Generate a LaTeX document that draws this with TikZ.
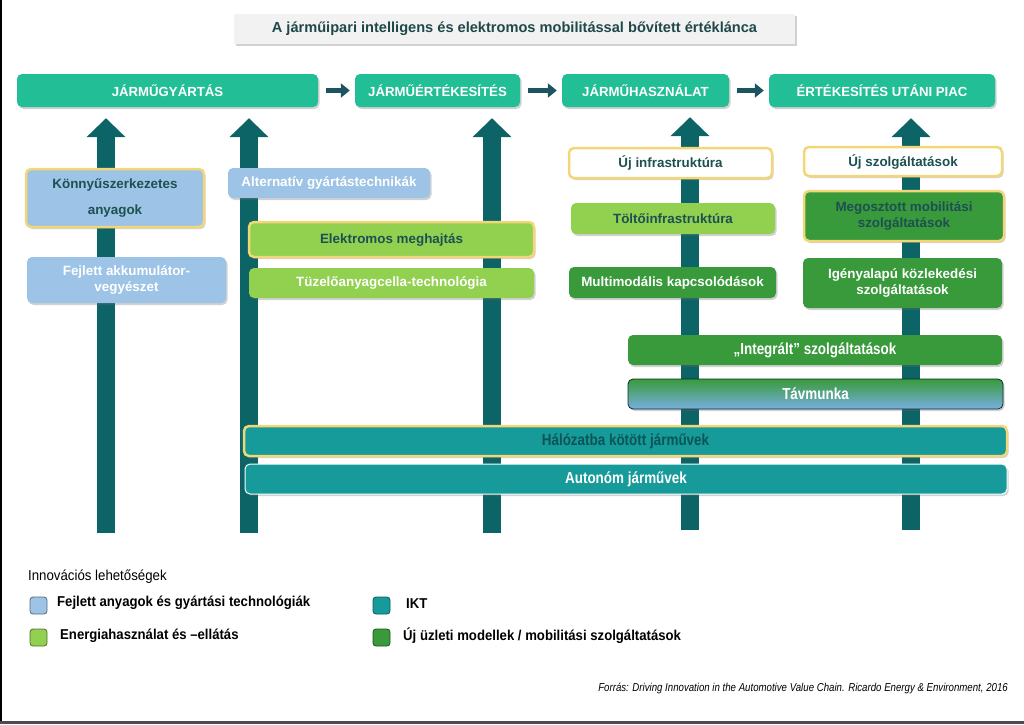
\documentclass[tikz,border=0pt]{standalone}
\usepackage{fontspec}
\setmainfont{Liberation Sans}
\newfontfamily\narrowfont[FakeStretch=0.84]{Liberation Sans}
\newfontfamily\legfont[FakeStretch=0.92]{Liberation Sans}
\usetikzlibrary{arrows.meta,shadows}
\definecolor{hdr}{RGB}{34,190,150}
\definecolor{arrowc}{RGB}{12,100,102}
\definecolor{sarrow}{RGB}{28,84,96}
\definecolor{lblue}{RGB}{157,195,230}
\definecolor{lgreen}{RGB}{146,208,80}
\definecolor{dgreen}{RGB}{56,154,58}
\definecolor{ikt}{RGB}{22,154,154}
\definecolor{ybord}{RGB}{243,214,120}
\definecolor{dtext}{RGB}{30,80,82}
\definecolor{ttext}{RGB}{32,72,74}
\definecolor{tfill}{RGB}{242,242,242}
\definecolor{tblue}{RGB}{120,175,225}
\begin{document}
\begin{tikzpicture}[x=1pt,y=-1pt,
  shadowed/.style={drop shadow={shadow xshift=1.5pt,shadow yshift=-2pt,opacity=0.3,fill=black!60}},
  box/.style={rounded corners=5pt, inner sep=0pt, align=center, shadowed,
     font=\bfseries\fontsize{13.4}{16.5}\selectfont},
  hbox/.style={box, fill=hdr, text=white, font=\bfseries\fontsize{13.2}{15}\selectfont},
  ybox/.style={draw=ybord, line width=2.5pt},
  wbox/.style={draw=white, line width=1pt},
  nbox/.style={font=\narrowfont\bfseries\fontsize{16}{18}\selectfont},
  bigarrow/.style={draw=arrowc, line width=18pt, -{Triangle[length=19pt,width=38pt]}},
  smallarrow/.style={draw=sarrow, line width=5pt, -{Triangle[length=9pt,width=14pt]}, shorten <=8pt, shorten >=5pt},
  legsq/.style={rounded corners=3pt, minimum size=17pt, inner sep=0pt, line width=0.8pt},
  legtxt/.style={anchor=west, inner sep=0pt, font=\legfont\bfseries\fontsize{14.3}{16}\selectfont}
]
\useasboundingbox (0,0) rectangle (1024,724);
\fill[black] (0,0) rectangle (2,724);
\fill[black!70] (0,721) rectangle (1024,724);

% title
\node[box, fill=tfill, text=ttext, minimum width=561pt, minimum height=30pt, rounded corners=0pt,
      font=\bfseries\fontsize{14.6}{17}\selectfont] (title) at (514.5,29) {A járműipari intelligens és elektromos mobilitással bővített értéklánca};

% headers
\node[hbox, minimum width=301pt, minimum height=33pt] (h1) at (167.5,90.5) {JÁRMŰGYÁRTÁS};
\node[hbox, minimum width=165pt, minimum height=33pt] (h2) at (437.5,90.5) {JÁRMŰÉRTÉKESÍTÉS};
\node[hbox, minimum width=167pt, minimum height=33pt] (h3) at (645.5,90.5) {JÁRMŰHASZNÁLAT};
\node[hbox, minimum width=226pt, minimum height=33pt] (h4) at (882,90.5) {ÉRTÉKESÍTÉS UTÁNI PIAC};

\draw[smallarrow] (h1.east) -- (h2.west);
\draw[smallarrow] (h2.east) -- (h3.west);
\draw[smallarrow] (h3.east) -- (h4.west);

% vertical arrows
\coordinate (a1) at (106,533);
\coordinate (a2) at (249,533);
\coordinate (a3) at (492,533);
\coordinate (a4) at (690,530);
\coordinate (a5) at (911,530);
\draw[bigarrow, shorten >=11pt] (a1) -- (a1 |- h1.south);
\draw[bigarrow, shorten >=11pt] (a2) -- (a2 |- h1.south);
\draw[bigarrow, shorten >=11pt] (a3) -- (a3 |- h2.south);
\draw[bigarrow, shorten >=10pt] (a4) -- (a4 |- h3.south);
\draw[bigarrow, shorten >=11pt] (a5) -- (a5 |- h4.south);

% left column
\node[box, ybox, fill=lblue, text=dtext, minimum width=178pt, minimum height=58pt] (konnyu) at (115,198)
  {Könnyűszerkezetes\\[10pt]anyagok};
\node[box, fill=lblue, text=white, minimum width=199pt, minimum height=46pt] (fejlett) at (126.5,280)
  {Fejlett akkumulátor-\\vegyészet};
\node[box, fill=lblue, text=white, minimum width=202pt, minimum height=30pt] (altern) at (329,183)
  {Alternatív gyártástechnikák};
\node[box, ybox, fill=lgreen, text=dtext, minimum width=285pt, minimum height=35pt] (elektro) at (391.5,239.5)
  {Elektromos meghajtás};
\node[box, fill=lgreen, text=white, minimum width=285pt, minimum height=30pt] (tuzelo) at (391.5,283)
  {Tüzelőanyagcella-technológia};

% right part
\node[box, ybox, fill=white, text=dtext, minimum width=203pt, minimum height=30pt] (ujinfra) at (670.5,163)
  {Új infrastruktúra};
\node[box, fill=lgreen, text=dtext, minimum width=204pt, minimum height=31pt] (tolto) at (673,218.5)
  {Töltőinfrastruktúra};
\node[box, fill=dgreen, text=white, minimum width=207pt, minimum height=31pt] (multi) at (672.5,282.5)
  {Multimodális kapcsolódások};
\node[box, ybox, fill=white, text=dtext, minimum width=198pt, minimum height=29pt] (ujszolg) at (903,161.5)
  {Új szolgáltatások};
\node[box, ybox, fill=dgreen, text=dtext, minimum width=200pt, minimum height=50pt] (megoszt) at (904,216)
  {Megosztott mobilitási\\szolgáltatások};
\node[box, fill=dgreen, text=white, minimum width=199pt, minimum height=50pt] (igeny) at (902.5,283)
  {Igényalapú közlekedési\\szolgáltatások};

% wide bars
\node[box, nbox, fill=dgreen, text=white, minimum width=374pt, minimum height=30pt] (integr) at (815,350)
  {„Integrált” szolgáltatások};
\node[box, nbox, top color=dgreen, middle color=ikt, bottom color=tblue, draw=black!70!ikt, line width=0.8pt,
      text=white, minimum width=375pt, minimum height=30pt] (tavm) at (815.5,394)
  {Távmunka};
\node[box, nbox, ybox, fill=ikt, text=black!45!ikt, minimum width=763pt, minimum height=30pt] (halo) at (625.5,441)
  {Hálózatba kötött járművek};
\node[box, nbox, wbox, fill=ikt, text=white, minimum width=762pt, minimum height=30pt] (auton) at (626,479)
  {Autonóm járművek};

% legend
\node[anchor=west, inner sep=0pt, font=\legfont\fontsize{14.4}{16}\selectfont] (legt) at (28,577) {Innovációs lehetőségek};
\node[legsq, fill=lblue, draw=lblue!55!black] (l1) at (38.5,605.5) {};
\node[legtxt] (l1t) at (57,603) {Fejlett anyagok és gyártási technológiák};
\node[legsq, fill=ikt, draw=ikt!60!black] (l2) at (381.5,605.5) {};
\node[legtxt] (l2t) at (406,604) {IKT};
\node[legsq, fill=lgreen, draw=lgreen!55!black] (l3) at (38.5,637.5) {};
\node[legtxt] (l3t) at (60,636) {Energiahasználat és –ellátás};
\node[legsq, fill=dgreen, draw=dgreen!55!black] (l4) at (381.5,637.5) {};
\node[legtxt] (l4t) at (403,636) {Új üzleti modellek / mobilitási szolgáltatások};

\node[anchor=east, inner sep=0pt, font=\narrowfont\itshape\fontsize{11.5}{13}\selectfont] (src) at (1008,688)
  {Forrás: Driving Innovation in the Automotive Value Chain. Ricardo Energy \& Environment, 2016};
\end{tikzpicture}
\end{document}
